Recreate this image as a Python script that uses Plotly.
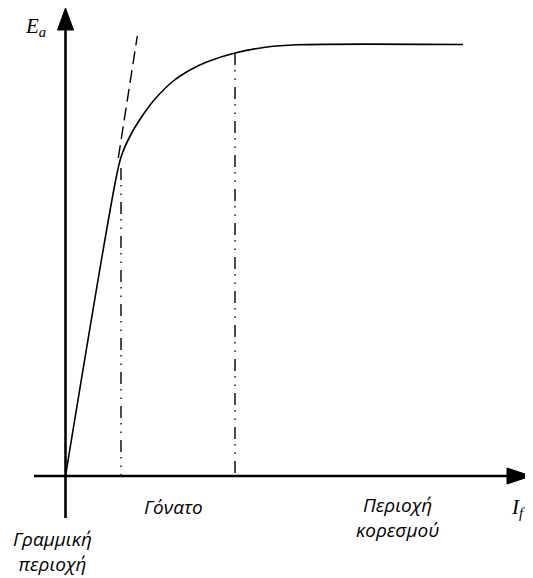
import plotly.graph_objects as go

# Magnetization curve E_a(I_f)
curve_if = [0.0, 5.12, 5.62, 6.62, 7.95, 8.95, 10.78, 12.45, 14.12, 16.95, 20.15, 23.15, 39.75]
curve_ea = [0.0, 30.1, 32.1, 34.3, 36.4, 37.7, 39.5, 40.6, 41.4, 42.3, 42.9, 43.12, 43.15]

# linear-region extension (air-gap line)
tangent_if = [5.28, 7.18]
tangent_ea = [31.8, 44.0]

# region boundaries (knee start and knee end)
knee_if = [5.55, 16.95]
knee_ea_top = [30.8, 42.3]

# axis extents (page has an 8px body margin, ranges compensate for it)
X_MIN, X_MAX = -5.75, 47.55
Y_MIN, Y_MAX = -11.0, 46.8
XAX_START, XAX_BASE, XAX_TIP = -3.15, 44.15, 46.55
YAX_START, YAX_BASE, YAX_TIP = -4.2, 44.6, 46.8
HEAD_HALF = 0.8

fig = go.Figure()

fig.add_trace(go.Scatter(x=curve_if, y=curve_ea, mode="lines",
                         line=dict(color="black", width=1.6, shape="spline", smoothing=1.0),
                         hoverinfo="skip", showlegend=False))
fig.add_trace(go.Scatter(x=tangent_if, y=tangent_ea, mode="lines",
                         line=dict(color="black", width=1.4, dash="13px,6px"),
                         hoverinfo="skip", showlegend=False))
for xi, yt in zip(knee_if, knee_ea_top):
    fig.add_trace(go.Scatter(x=[xi, xi], y=[yt, 0], mode="lines",
                             line=dict(color="black", width=1.4, dash="12px,5px,1.5px,7px,1.5px,7px"),
                             hoverinfo="skip", showlegend=False))

shapes = [
    dict(type="line", x0=XAX_START, y0=0, x1=XAX_BASE, y1=0, line=dict(color="black", width=2.6)),
    dict(type="line", x0=0, y0=YAX_START, x1=0, y1=YAX_BASE, line=dict(color="black", width=2.6)),
    dict(type="path",
         path=f"M {XAX_TIP},0 L {XAX_BASE},{HEAD_HALF} L {XAX_BASE},{-HEAD_HALF} Z",
         fillcolor="black", line=dict(color="black", width=1)),
    dict(type="path",
         path=f"M 0,{YAX_TIP} L {-HEAD_HALF},{YAX_BASE} L {HEAD_HALF},{YAX_BASE} Z",
         fillcolor="black", line=dict(color="black", width=1)),
]

serif = dict(family="Liberation Serif", size=21, color="black")
sans = dict(family="Open Sans", size=19, color="black")

annotations = [
    dict(x=-3.05, y=44.9, text="<i>E<sub>a</sub></i>", font=serif),
    dict(x=45.25, y=-3.2, text="<i>I<sub>f</sub></i>", font=serif),
    dict(x=10.75, y=-3.1, text="<i>Γόνατο</i>", font=sans),
    dict(x=33.15, y=-4.15, text="<i>Περιοχή<br>κορεσμού</i>", font=sans),
    dict(x=-1.35, y=-7.55, text="<i>Γραμμική<br>περιοχή</i>", font=sans),
]
for a in annotations:
    a.update(xref="x", yref="y", showarrow=False, xanchor="center", yanchor="middle")

fig.update_layout(
    width=533, height=578,
    margin=dict(l=0, r=0, t=0, b=0),
    paper_bgcolor="white", plot_bgcolor="white",
    xaxis=dict(range=[X_MIN, X_MAX], visible=False, fixedrange=True),
    yaxis=dict(range=[Y_MIN, Y_MAX], visible=False, fixedrange=True),
    shapes=shapes, annotations=annotations,
)

fig.write_html("out.html")
